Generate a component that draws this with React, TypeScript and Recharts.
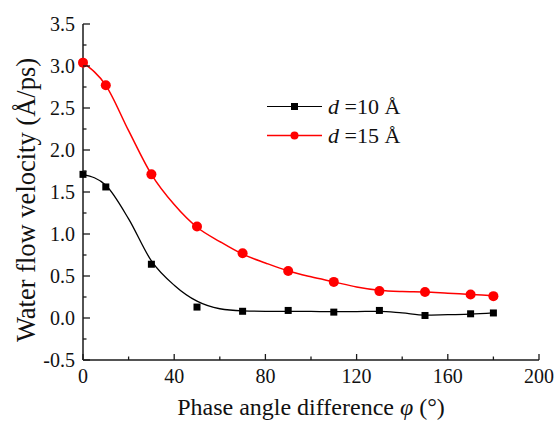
import React from "react";
import { ComposedChart, Line, XAxis, YAxis, Legend } from "recharts";

// measured points
const phaseAngle = [0, 10, 30, 50, 70, 90, 110, 130, 150, 170, 180];
const velocityD10 = [1.71, 1.56, 0.64, 0.13, 0.08, 0.09, 0.07, 0.09, 0.03, 0.05, 0.06];
const velocityD15 = [3.04, 2.77, 1.71, 1.09, 0.77, 0.56, 0.43, 0.32, 0.31, 0.28, 0.26];

// fitted curves, every 10 degrees
const fitAngle = [0, 10, 20, 30, 40, 50, 60, 70, 80, 90, 100, 110, 120, 130, 140, 150, 160, 170, 180];
const fitD10 = [1.71, 1.58, 1.18, 0.68, 0.39, 0.2, 0.11, 0.085, 0.08, 0.08, 0.078, 0.075, 0.077, 0.08, 0.06, 0.035, 0.04, 0.045, 0.06];
const fitD15 = [3.04, 2.77, 2.23, 1.71, 1.35, 1.08, 0.91, 0.76, 0.655, 0.56, 0.49, 0.43, 0.37, 0.33, 0.315, 0.31, 0.295, 0.28, 0.265];

const xTicks = [0, 20, 40, 60, 80, 100, 120, 140, 160, 180, 200];
const yTicks = [-0.5, -0.25, 0, 0.25, 0.5, 0.75, 1, 1.25, 1.5, 1.75, 2, 2.25, 2.5, 2.75, 3, 3.25, 3.5];

const seriesNames = ["10 Å", "15 Å"];
const seriesColors = ["#000000", "#ff0000"];

const rows = fitAngle.map((x, i) => {
  const k = phaseAngle.indexOf(x);
  return {
    x,
    fit10: fitD10[i],
    fit15: fitD15[i],
    d10: k >= 0 ? velocityD10[k] : null,
    d15: k >= 0 ? velocityD15[k] : null,
  };
});

const FONT = "Liberation Serif";
const AXIS = "#1a1a1a";
const TEXT = "#111";

function renderXTick(props: any) {
  const { x, y, payload } = props;
  const v = payload.value as number;
  const major = v % 40 === 0;
  return (
    <g>
      <line x1={x} x2={x} y1={y} y2={y - (major ? 6 : 3.5)} stroke={AXIS} strokeWidth={1.3} />
      {major && (
        <text x={x} y={y + 23} textAnchor="middle" fontFamily={FONT} fontSize={20} fill={TEXT} style={{ fontFamily: FONT }}>
          {String(v)}
        </text>
      )}
    </g>
  );
}

function renderYTick(props: any) {
  const { x, y, payload } = props;
  const v = payload.value as number;
  const major = Math.abs(v * 2 - Math.round(v * 2)) < 1e-6;
  return (
    <g>
      <line x1={x} x2={x + (major ? 7 : 3.5)} y1={y} y2={y} stroke={AXIS} strokeWidth={1.3} />
      {major && (
        <text x={x - 8} y={y + 6.5} textAnchor="end" fontFamily={FONT} fontSize={20} fill={TEXT} style={{ fontFamily: FONT }}>
          {v.toFixed(1)}
        </text>
      )}
    </g>
  );
}

function XTitle(props: any) {
  const vb = props.viewBox;
  return (
    <text x={vb.x + vb.width / 2} y={vb.y + 55} textAnchor="middle" style={{ fontFamily: FONT, fontSize: 24, fill: TEXT }}>
      Phase angle difference <tspan fontStyle="italic">φ</tspan> (°)
    </text>
  );
}

function YTitle(props: any) {
  const vb = props.viewBox;
  const cx = vb.x + 26;
  const cy = vb.y + vb.height / 2 + 8;
  return (
    <text
      x={cx}
      y={cy}
      transform={`rotate(-90 ${cx} ${cy})`}
      textAnchor="middle"
      dominantBaseline="central"
      style={{ fontFamily: FONT, fontSize: 26.5, fill: TEXT }}
    >
      Water flow velocity (Å/ps)
    </text>
  );
}

function SquareDot(props: any) {
  const { cx, cy } = props;
  if (cx == null || cy == null) return <g />;
  return <rect x={cx - 3.5} y={cy - 3.5} width={7} height={7} fill="#000" />;
}

function CircleDot(props: any) {
  const { cx, cy } = props;
  if (cx == null || cy == null) return <g />;
  return <circle cx={cx} cy={cy} r={5} fill="#ff0000" />;
}

function LegendBox() {
  return (
    <div style={{ fontFamily: FONT, fontSize: 22, color: TEXT }}>
      {seriesNames.map((name, i) => (
        <div key={name} style={{ display: "flex", alignItems: "center", height: 29 }}>
          <svg width={60} height={29}>
            <line x1={2} x2={57} y1={14.5} y2={14.5} stroke={seriesColors[i]} strokeWidth={i ? 1.5 : 1} />
            {i === 0 ? (
              <rect x={26} y={11} width={7} height={7} fill="#000" />
            ) : (
              <circle cx={29.5} cy={14.5} r={4} fill="#ff0000" />
            )}
          </svg>
          <span style={{ marginLeft: 3, whiteSpace: "nowrap" }}>
            <i>d</i> ={name}
          </span>
        </div>
      ))}
    </div>
  );
}

export default function App() {
  return (
    <div style={{ position: "absolute", left: 0, top: 0, width: 554, height: 426, background: "#fff" }}>
      <ComposedChart width={554} height={426} data={rows} margin={{ top: 24, right: 15, bottom: 0, left: 0 }}>
        <XAxis
          dataKey="x"
          type="number"
          domain={[0, 200]}
          ticks={xTicks}
          interval={0}
          tickSize={0}
          tickMargin={0}
          tickLine={false}
          tick={renderXTick}
          height={66}
          axisLine={{ stroke: AXIS, strokeWidth: 1.5 }}
          label={<XTitle />}
        />
        <XAxis
          xAxisId="top"
          orientation="top"
          dataKey="x"
          type="number"
          domain={[0, 200]}
          height={0}
          tick={false}
          tickLine={false}
          axisLine={{ stroke: AXIS, strokeWidth: 1.5 }}
        />
        <YAxis
          type="number"
          domain={[-0.5, 3.5]}
          ticks={yTicks}
          interval={0}
          tickSize={0}
          tickMargin={0}
          tickLine={false}
          tick={renderYTick}
          width={83}
          axisLine={{ stroke: AXIS, strokeWidth: 1.5 }}
          label={<YTitle />}
        />
        <YAxis
          yAxisId="right"
          orientation="right"
          type="number"
          domain={[-0.5, 3.5]}
          width={0}
          tick={false}
          tickLine={false}
          axisLine={{ stroke: AXIS, strokeWidth: 1.5 }}
        />
        <Legend
          layout="vertical"
          align="center"
          verticalAlign="middle"
          content={<LegendBox />}
          wrapperStyle={{ left: 265, top: 92, width: 160 }}
        />
        <Line dataKey="fit10" type="monotone" stroke="#000" strokeWidth={1.3} dot={false} isAnimationActive={false} />
        <Line dataKey="fit15" type="monotone" stroke="#ff0000" strokeWidth={1.5} dot={false} isAnimationActive={false} />
        <Line dataKey="d10" stroke="none" dot={<SquareDot />} activeDot={false} isAnimationActive={false} />
        <Line dataKey="d15" stroke="none" dot={<CircleDot />} activeDot={false} isAnimationActive={false} />
      </ComposedChart>
    </div>
  );
}
